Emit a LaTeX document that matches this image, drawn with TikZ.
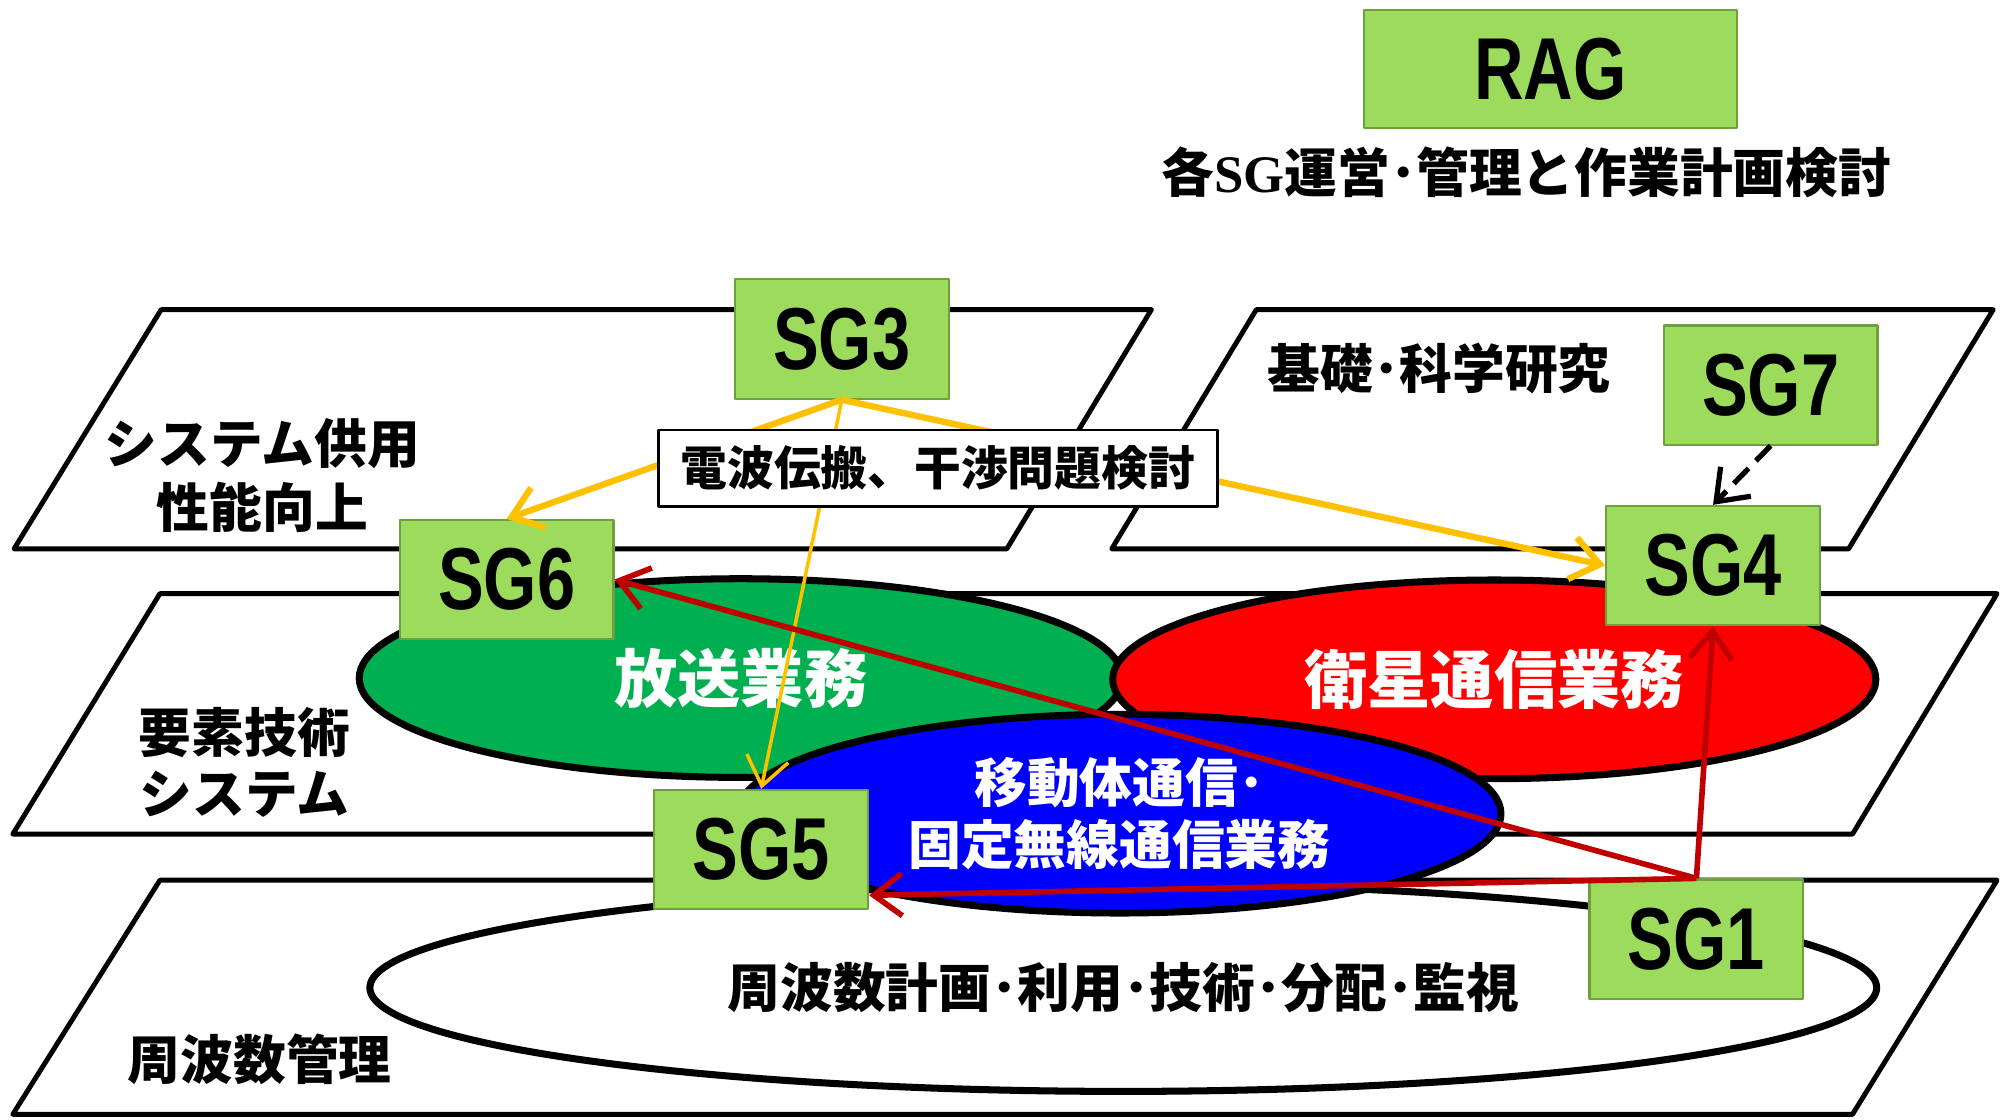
\documentclass[tikz,border=0pt]{standalone}
\usepackage{fontspec}
\setmainfont{Noto Sans CJK JP}
\newfontfamily\sgfont{Liberation Sans}[FakeStretch=0.78]
\newfontfamily\sgserif{Liberation Serif}
\usetikzlibrary{arrows.meta,shapes.geometric}
\definecolor{sggreen}{RGB}{157,219,92}
\definecolor{sgedge}{RGB}{112,160,62}
\definecolor{bcgreen}{RGB}{0,176,80}
\definecolor{satred}{RGB}{255,0,0}
\definecolor{mobblue}{RGB}{0,0,255}
\definecolor{propyel}{RGB}{255,192,0}
\definecolor{linkred}{RGB}{192,0,0}

\begin{document}
\begin{tikzpicture}[x=0.012793cm,y=-0.012793cm,line join=round,>={Straight Barb[length=8pt,width=12pt]},
  sg/.style={draw=sgedge,fill=sggreen,line width=0.6pt,minimum width=60.8pt,minimum height=33.9pt,inner sep=0pt,font=\sgfont\bfseries\fontsize{25}{25}\selectfont},
  lay/.style={draw,line width=1.4pt,fill=white},
  ell/.style={ellipse,draw,line width=2pt,inner sep=0pt,minimum width=217pt,minimum height=56.5pt,text=white,align=center,font=\bfseries\fontsize{18}{18}\selectfont},
  lab/.style={align=center,font=\bfseries\fontsize{15}{18.2}\selectfont},
  yarr/.style={draw=propyel,line width=1.8pt,->},
  rarr/.style={draw=linkred,line width=1.6pt,->}]
\useasboundingbox (0,0) rectangle (1568,875);
% layers
\draw[lay] (126,242) -- (900,242) -- (787,429) -- (11,429) -- cycle;
\draw[lay] (982,242) -- (1558,242) -- (1445,429) -- (869,429) -- cycle;
\draw[lay] (125,464) -- (1561,464) -- (1448,652) -- (10,652) -- cycle;
\draw[lay] (125,688) -- (1561,688) -- (1448,871) -- (10,871) -- cycle;
\node[lab] (sysuse) at (205,372) {システム供用\\性能向上};
\node[lab] (basic) at (1125,288) {基礎･科学研究};
\node[lab,font=\bfseries\fontsize{15}{17.5}\selectfont] (elem) at (191,596) {要素技術\\システム};
\node[lab] (fmgmt) at (203,828) {周波数管理};
% services
\node[ell,fill=white,text=black,minimum width=428.5pt,minimum height=59pt,font=\bfseries\fontsize{15}{15}\selectfont] (freq) at (878,772) {周波数計画･利用･技術･分配･監視};
\node[ell,fill=bcgreen] (bcast) at (579,530) {放送業務};
\node[ell,fill=satred] (sat) at (1168,531) {衛星通信業務};
\node[ell,fill=mobblue,font=\bfseries\fontsize{15}{17.8}\selectfont] (mob) at (875,636) {移動体通信･\\固定無線通信業務};
% groups
\node[sg,minimum width=105.9pt,minimum height=33.5pt] (rag) at (1212,54) {RAG};
\node[lab,font=\bfseries\fontsize{15}{18}\selectfont] (ragtask) at (1193,135) {各{\sgserif SG}運営･管理と作業計画検討};
\node[sg] (sg3) at (658,265) {SG3};
\node[sg] (sg6) at (396,453) {SG6};
\node[sg] (sg7) at (1384,301) {SG7};
\node[sg] (sg4) at (1339,442) {SG4};
\node[sg] (sg5) at (595,664) {SG5};
\node[sg] (sg1) at (1326,734) {SG1};
% links
\draw[yarr] (sg3.south) -- (sg6.north);
\draw[yarr] (sg3.south) -- (sg4.west);
\draw[yarr,line width=1pt] (sg3.south) -- (sg5.north);
\draw[rarr] (sg1.north) -- (sg6.east);
\draw[rarr] (sg1.north) -- (sg5.-23);
\draw[rarr] (sg1.north) -- (sg4.south);
\draw[line width=1.5pt,dash pattern=on 6pt off 3pt,->] (sg7.south) -- (sg4.north);
\node[draw,fill=white,line width=0.8pt,minimum width=159pt,minimum height=21.8pt,inner sep=0pt,font=\bfseries\fontsize{13.3}{16}\selectfont] (prop) at (733,366) {電波伝搬、干渉問題検討};
\end{tikzpicture}
\end{document}
